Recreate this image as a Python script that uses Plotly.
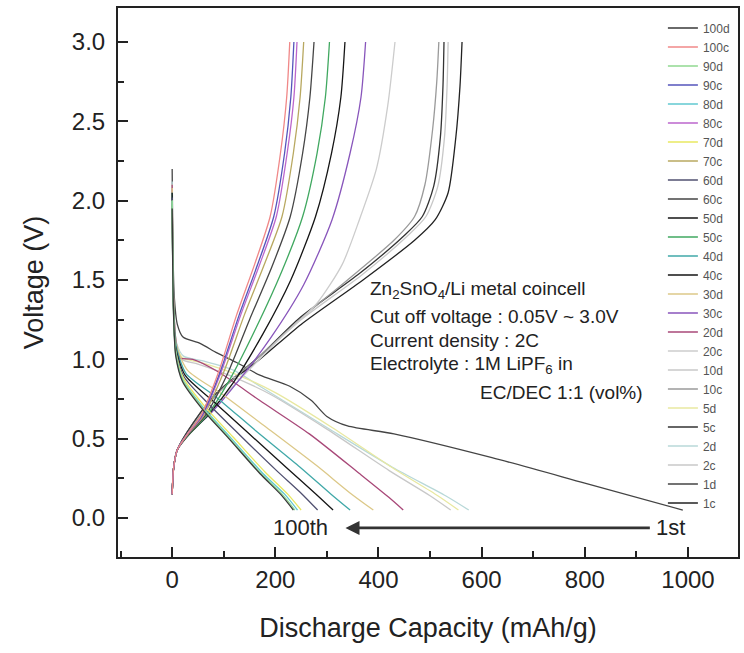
import plotly.graph_objects as go

# ---------------- data (capacity mAh/g, voltage V) ----------------
cycles = ["1", "2", "5", "10", "20", "30", "40", "50", "60", "70", "80", "90", "100"]

d1 = [(0, 2.2), (1, 1.8), (4, 1.4), (10, 1.22), (21, 1.14), (54, 1.1), (87, 1.04), (125, 0.98), (170, 0.9),
      (228, 0.83), (270, 0.74), (300, 0.64), (340, 0.58), (430, 0.53), (620, 0.38), (800, 0.22), (990, 0.05)]
c1 = [(0, 0.15), (3, 0.32), (10, 0.43), (41, 0.6), (87, 0.79), (170, 1.0), (250, 1.22), (370, 1.5), (470, 1.75),
      (510, 1.88), (535, 2.05), (550, 2.4), (558, 2.72), (562, 3.0)]
d2 = [(0, 2.12), (1, 1.72), (3, 1.36), (8, 1.11), (22, 1.02), (60, 0.99), (120, 0.93), (170, 0.83), (300, 0.57),
      (427, 0.32), (530, 0.14), (575, 0.05)]
c2 = [(0, 0.15), (3, 0.32), (10, 0.43), (41, 0.6), (87, 0.79), (170, 1.02), (250, 1.25), (367, 1.53), (457, 1.78),
      (492, 1.9), (515, 2.09), (528, 2.4), (533, 2.72), (535, 3.0)]
d5 = [(0, 2.1), (1, 1.7), (3, 1.34), (8, 1.1), (20, 1.01), (55, 0.98), (120, 0.91), (200, 0.79), (310, 0.57),
      (430, 0.31), (515, 0.14), (555, 0.05)]
c5 = [(0, 0.15), (3, 0.32), (10, 0.43), (41, 0.6), (87, 0.79), (170, 1.02), (247, 1.26), (363, 1.54), (450, 1.78),
      (485, 1.9), (507, 2.09), (520, 2.4), (525, 2.72), (527, 3.0)]
d10 = [(0, 2.1), (1, 1.7), (3, 1.34), (8, 1.1), (18, 1.0), (50, 0.97), (110, 0.9), (190, 0.78), (300, 0.56),
       (420, 0.3), (500, 0.14), (540, 0.05)]
c10 = [(0, 0.15), (3, 0.32), (10, 0.43), (38, 0.57), (87, 0.78), (170, 1.02), (247, 1.25), (340, 1.5), (430, 1.75),
       (470, 1.9), (490, 2.1), (505, 2.45), (513, 2.75), (517, 3.0)]
d20 = [(0, 2.1), (1, 1.7), (3, 1.33), (8, 1.1), (15, 1.01), (40, 1.0), (90, 0.92), (170, 0.74), (266, 0.53),
       (363, 0.28), (420, 0.13), (448, 0.05)]
c20 = [(0, 0.15), (3, 0.32), (10, 0.43), (36, 0.55), (80, 0.7), (145, 0.92), (215, 1.15), (280, 1.35), (330, 1.6),
       (363, 1.88), (396, 2.2), (418, 2.6), (432, 3.0)]
d30 = [(0, 2.08), (1, 1.68), (3, 1.32), (8, 1.09), (30, 0.93), (97, 0.78), (183, 0.57), (280, 0.33), (348, 0.15),
       (390, 0.05)]
c30 = [(0, 0.15), (3, 0.32), (10, 0.43), (35, 0.54), (75, 0.66), (130, 0.87), (190, 1.13), (255, 1.47), (310, 1.88),
       (345, 2.3), (366, 2.65), (375, 3.0)]
d40 = [(0, 2.05), (1, 1.66), (3, 1.3), (8, 1.08), (27, 0.91), (86, 0.76), (162, 0.55), (248, 0.32), (308, 0.15),
       (345, 0.05)]
c40 = [(0, 0.15), (3, 0.32), (10, 0.43), (34, 0.53), (70, 0.65), (120, 0.86), (176, 1.16), (230, 1.5), (278, 1.9),
       (309, 2.3), (327, 2.65), (335, 3.0)]
d50 = [(0, 2.05), (1, 1.65), (3, 1.3), (7, 1.07), (25, 0.9), (78, 0.74), (146, 0.54), (224, 0.31), (279, 0.15),
       (312, 0.05)]
c50 = [(0, 0.15), (3, 0.32), (10, 0.43), (33, 0.53), (66, 0.64), (113, 0.88), (163, 1.2), (212, 1.55), (253, 1.9),
       (281, 2.3), (297, 2.65), (305, 3.0)]
d60 = [(0, 2.02), (1, 1.64), (3, 1.29), (7, 1.06), (23, 0.89), (70, 0.72), (132, 0.52), (202, 0.3), (252, 0.15),
       (282, 0.05)]
c60 = [(0, 0.15), (3, 0.32), (10, 0.43), (32, 0.53), (63, 0.64), (106, 0.9), (150, 1.25), (193, 1.58), (229, 1.9),
       (253, 2.3), (267, 2.65), (275, 3.0)]
d70 = [(0, 2.0), (1, 1.63), (3, 1.28), (7, 1.05), (22, 0.88), (64, 0.7), (118, 0.51), (180, 0.29), (224, 0.15),
       (250, 0.05)]
c70 = [(0, 0.15), (3, 0.32), (10, 0.43), (31, 0.53), (60, 0.64), (100, 0.92), (140, 1.28), (179, 1.6), (213, 1.9),
       (235, 2.3), (248, 2.65), (255, 3.0)]
d80 = [(0, 2.0), (1, 1.62), (3, 1.27), (7, 1.04), (21, 0.87), (62, 0.69), (115, 0.5), (176, 0.28), (218, 0.15),
       (243, 0.05)]
c80 = [(0, 0.15), (3, 0.32), (10, 0.43), (30, 0.53), (58, 0.64), (95, 0.92), (133, 1.28), (170, 1.6), (202, 1.9),
       (223, 2.3), (236, 2.65), (242, 3.0)]
d90 = [(0, 2.0), (1, 1.62), (3, 1.26), (7, 1.03), (20, 0.87), (60, 0.69), (112, 0.5), (172, 0.28), (213, 0.15),
       (238, 0.05)]
c90 = [(0, 0.15), (3, 0.32), (10, 0.43), (30, 0.53), (57, 0.64), (93, 0.92), (130, 1.28), (166, 1.6), (197, 1.9),
       (218, 2.3), (230, 2.65), (236, 3.0)]
d100 = [(0, 1.95), (1, 1.6), (3, 1.25), (7, 1.02), (20, 0.86), (60, 0.68), (110, 0.5), (170, 0.28), (210, 0.15),
        (235, 0.05)]
c100 = [(0, 0.15), (3, 0.32), (10, 0.43), (30, 0.53), (55, 0.64), (90, 0.92), (125, 1.28), (160, 1.6), (190, 1.9),
        (210, 2.3), (222, 2.65), (228, 3.0)]

discharge = {"1": d1, "2": d2, "5": d5, "10": d10, "20": d20, "30": d30, "40": d40,
             "50": d50, "60": d60, "70": d70, "80": d80, "90": d90, "100": d100}
charge = {"1": c1, "2": c2, "5": c5, "10": c10, "20": c20, "30": c30, "40": c40,
          "50": c50, "60": c60, "70": c70, "80": c80, "90": c90, "100": c100}

colors_d = {"1": "#444444", "2": "#b8d8d8", "5": "#e8e8a0", "10": "#c8c8c8", "20": "#a84878",
            "30": "#dcc888", "40": "#40a8a8", "50": "#151515", "60": "#505070", "70": "#e8e860",
            "80": "#60c8d0", "90": "#90d890", "100": "#383838"}
colors_c = {"1": "#222222", "2": "#c8c8c8", "5": "#333333", "10": "#9a9a9a", "20": "#cccccc",
            "30": "#8855bb", "40": "#151515", "50": "#40a860", "60": "#454545", "70": "#b8a860",
            "80": "#bb66cc", "90": "#5555bb", "100": "#f08888"}

notes = ["Zn<sub>2</sub>SnO<sub>4</sub>/Li metal coincell",
         "Cut off voltage : 0.05V ~ 3.0V",
         "Current density : 2C",
         "Electrolyte : 1M LiPF<sub>6</sub> in",
         "EC/DEC 1:1 (vol%)"]

# ---------------- figure ----------------
fig = go.Figure()
for cy in cycles:
    for kind, data, cols in (("c", charge, colors_c), ("d", discharge, colors_d)):
        pts = data[cy]
        fig.add_trace(go.Scatter(
            x=[p[0] for p in pts], y=[p[1] for p in pts], mode="lines",
            name=cy + kind, line=dict(color=cols[cy], width=1.3, shape="spline", smoothing=0.7)))

font_main = "Liberation Sans, Arial, sans-serif"
fig.update_layout(
    width=744, height=653,
    margin=dict(l=118, r=4, t=8, b=96),
    paper_bgcolor="white", plot_bgcolor="white",
    font=dict(family=font_main, color="#222"),
    showlegend=True,
    legend=dict(x=0.995, xanchor="right", y=0.99, yanchor="top", traceorder="reversed",
                font=dict(size=12, color="#555555", family=font_main), bgcolor="rgba(0,0,0,0)",
                itemwidth=30, tracegroupgap=0, borderwidth=0),
)
fig.update_xaxes(
    range=[-105, 1097], tick0=0, dtick=200, ticks="inside", ticklen=10, tickwidth=1.5, tickcolor="#222",
    minor=dict(ticks="inside", dtick=100, ticklen=6, tickwidth=1.5, tickcolor="#222"),
    showline=True, linewidth=2, linecolor="#222", mirror=True, showgrid=False, zeroline=False,
    tickfont=dict(size=24, color="#222"),
    title=dict(text="Discharge Capacity (mAh/g)", font=dict(size=27, color="#222"), standoff=26),
)
fig.update_yaxes(
    range=[-0.246, 3.214], tick0=0, dtick=0.5, tickformat=".1f", ticks="inside", ticklen=10, tickwidth=1.5,
    tickcolor="#222",
    minor=dict(ticks="inside", dtick=0.25, ticklen=6, tickwidth=1.5, tickcolor="#222"),
    showline=True, linewidth=2, linecolor="#222", mirror=True, showgrid=False, zeroline=False,
    tickfont=dict(size=24, color="#222"), ticklabelstandoff=6,
    title=dict(text="Voltage (V)", font=dict(size=27, color="#222"), standoff=20),
)

note_x = [380, 380, 380, 380, 592]
note_y = [1.437, 1.267, 1.117, 0.962, 0.79]
for t, nx, ny in zip(notes, note_x, note_y):
    fig.add_annotation(x=nx, y=ny, xref="x", yref="y", text=t, showarrow=False, xanchor="left",
                       yanchor="middle", font=dict(size=19, color="#222", family=font_main))

# cycle-direction arrow
fig.add_annotation(x=336, y=-0.063, ax=929, ay=-0.063, xref="x", yref="y", axref="x", ayref="y",
                   text="", showarrow=True, arrowhead=2, arrowsize=1, arrowwidth=2.8, arrowcolor="#333")
fig.add_annotation(x=249, y=-0.063, xref="x", yref="y", text="100th", showarrow=False,
                   font=dict(size=22, color="#222", family=font_main))
fig.add_annotation(x=967, y=-0.063, xref="x", yref="y", text="1st", showarrow=False,
                   font=dict(size=22, color="#222", family=font_main))

fig.write_html("out.html")
